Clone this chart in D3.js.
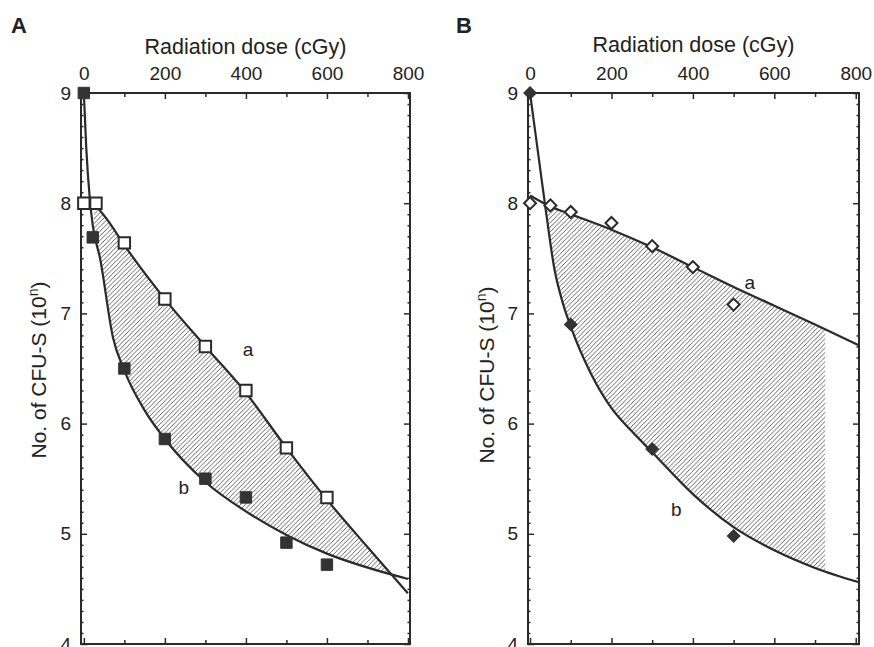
<!DOCTYPE html>
<html>
<head>
<meta charset="utf-8">
<script src="https://cdn.jsdelivr.net/npm/d3@7"></script>
<style>
  body { margin: 0; background: #fff; }
  svg { font-family: "Liberation Sans", Arial, Helvetica, sans-serif; }
</style>
</head>
<body>
<svg id="chart" width="874" height="647"></svg>
<script>
// axis ticks
const doseTicks = [0, 200, 400, 600, 800];
const doseMinor = [100, 300, 500, 700];
const logTicks = [4, 5, 6, 7, 8, 9];
const logMinor = d3.range(40, 91).filter((d) => d % 10 !== 0).map((d) => d / 10);

// panel A : measured points (open = a, filled = b)
const aOpenDose = [0, 30, 100, 200, 300, 400, 500, 600];
const aOpenVal = [8.0, 8.0, 7.64, 7.13, 6.7, 6.3, 5.78, 5.33];
const aFilledDose = [0, 22, 100, 200, 300, 400, 500, 600];
const aFilledVal = [9.0, 7.69, 6.5, 5.86, 5.5, 5.33, 4.92, 4.72];

// panel A : fitted curves
const aCurveADose = [25, 60, 100, 200, 300, 400, 500, 600, 700, 800];
const aCurveAVal = [8.0, 7.84, 7.62, 7.13, 6.7, 6.28, 5.78, 5.31, 4.88, 4.46];
const aCurveBDose = [0, 6, 15, 22, 40, 72, 100, 150, 200, 300, 410, 500, 600, 740, 800];
const aCurveBVal = [9.0, 8.5, 8.03, 7.8, 7.5, 6.78, 6.48, 6.12, 5.86, 5.47, 5.18, 4.99, 4.82, 4.65, 4.59];

// panel B : measured points
const bOpenDose = [0, 50, 100, 200, 300, 400, 500];
const bOpenVal = [8.0, 7.98, 7.92, 7.82, 7.61, 7.42, 7.08];
const bFilledDose = [0, 100, 300, 500];
const bFilledVal = [9.0, 6.9, 5.77, 4.98];

// panel B : fitted curves
const bCurveADose = [0, 50, 100, 200, 300, 400, 500, 600, 700, 808];
const bCurveAVal = [8.07, 7.97, 7.9, 7.76, 7.6, 7.42, 7.24, 7.07, 6.9, 6.71];
const bCurveBDose = [0, 20, 40, 60, 80, 100, 150, 200, 250, 300, 400, 500, 600, 700, 808];
const bCurveBVal = [9.0, 8.45, 7.9, 7.4, 7.1, 6.88, 6.45, 6.14, 5.93, 5.74, 5.36, 5.06, 4.85, 4.69, 4.56];

// curve labels [text, dose, value]
const aLabels = [["a", 405, 6.67], ["b", 247, 5.42]];
const bLabels = [["a", 540, 7.28], ["b", 359, 5.22]];

const ink = "#2a2a2a";
const svg = d3.select("#chart");

const defs = svg.append("defs");
defs.append("pattern")
  .attr("id", "hatch")
  .attr("patternUnits", "userSpaceOnUse")
  .attr("width", 4.6)
  .attr("height", 4.6)
  .append("path")
  .attr("d", "M-1,1 L1,-1 M0,4.6 L4.6,0 M3.6,5.6 L5.6,3.6")
  .attr("stroke", "#4a4a4a")
  .attr("stroke-width", 0.85);

const zip = (xs, ys) => xs.map((d, i) => [d, ys[i]]);

function drawPanel(id, o) {
  const x = d3.scaleLinear().domain(o.xDomain).range([o.left, o.right]);
  const y = d3.scaleLinear().domain([4, 9]).range([o.bottom, o.top]);
  const g = svg.append("g").attr("id", id);
  const curve = d3.curveMonotoneX;

  // hatched area between curve a (upper) and curve b (lower)
  const below = d3.area().x((d) => x(d[0])).y0(o.bottom).y1((d) => y(d[1])).curve(curve);
  const above = d3.area().x((d) => x(d[0])).y0(o.top).y1((d) => y(d[1])).curve(curve);
  defs.append("clipPath").attr("id", id + "-ca").append("path").attr("d", below(o.curveA));
  defs.append("clipPath").attr("id", id + "-cb").append("path").attr("d", above(o.curveB));
  g.append("g")
    .attr("clip-path", `url(#${id}-ca)`)
    .append("g")
    .attr("clip-path", `url(#${id}-cb)`)
    .append("rect")
    .attr("x", o.left)
    .attr("y", o.top)
    .attr("width", x(o.hatchMax) - o.left)
    .attr("height", o.bottom - o.top)
    .attr("fill", "url(#hatch)");

  // axes, ticks pointing inwards
  const styleAxis = (sel) => {
    sel.select(".domain").remove();
    sel.selectAll(".tick line").attr("stroke", ink).attr("stroke-width", 1.5);
    sel.selectAll(".tick text").attr("fill", "#222").style("font-size", "19px");
  };
  g.append("g").attr("transform", `translate(0,${o.top})`)
    .call(d3.axisTop(x).tickValues(doseTicks).tickSize(-6).tickPadding(13))
    .call(styleAxis);
  g.append("g").attr("transform", `translate(0,${o.top})`)
    .call(d3.axisTop(x).tickValues(doseMinor).tickSize(-4).tickFormat(""))
    .call(styleAxis);
  g.append("g").attr("transform", `translate(0,${o.bottom})`)
    .call(d3.axisBottom(x).tickValues(doseTicks).tickSize(-6).tickFormat(""))
    .call(styleAxis);
  g.append("g").attr("transform", `translate(0,${o.bottom})`)
    .call(d3.axisBottom(x).tickValues(doseMinor).tickSize(-4).tickFormat(""))
    .call(styleAxis);
  g.append("g").attr("transform", `translate(${o.left},0)`)
    .call(d3.axisLeft(y).tickValues(logTicks).tickSize(-6).tickPadding(10).tickFormat(d3.format("d")))
    .call(styleAxis);
  g.append("g").attr("transform", `translate(${o.left},0)`)
    .call(d3.axisLeft(y).tickValues(logMinor).tickSize(-2.5).tickFormat(""))
    .call(styleAxis);
  g.append("g").attr("transform", `translate(${o.right},0)`)
    .call(d3.axisRight(y).tickValues(logTicks).tickSize(-6).tickFormat(""))
    .call(styleAxis);
  g.append("g").attr("transform", `translate(${o.right},0)`)
    .call(d3.axisRight(y).tickValues(logMinor).tickSize(-2.5).tickFormat(""))
    .call(styleAxis);

  g.append("rect")
    .attr("x", o.left).attr("y", o.top)
    .attr("width", o.right - o.left).attr("height", o.bottom - o.top)
    .attr("fill", "none").attr("stroke", ink).attr("stroke-width", 2);

  // fitted curves
  const line = d3.line().x((d) => x(d[0])).y((d) => y(d[1])).curve(curve);
  [o.curveA, o.curveB].forEach((c) => {
    g.append("path").attr("d", line(c))
      .attr("fill", "none").attr("stroke", ink).attr("stroke-width", 2.2);
  });

  // markers
  const sym = (type, size) => d3.symbol().type(type).size(size)();
  g.selectAll(".filled").data(o.filled).join("path")
    .attr("transform", (d) => `translate(${x(d[0])},${y(d[1])})${o.rot}`)
    .attr("d", sym(d3.symbolSquare, o.fillSize))
    .attr("fill", "#333").attr("stroke", "#333").attr("stroke-width", 1);
  g.selectAll(".open").data(o.open).join("path")
    .attr("transform", (d) => `translate(${x(d[0])},${y(d[1])})${o.rot}`)
    .attr("d", sym(d3.symbolSquare, o.openSize))
    .attr("fill", "#fff").attr("stroke", ink).attr("stroke-width", 2);

  // curve labels
  g.selectAll(".lab").data(o.labels).join("text")
    .attr("x", (d) => x(d[1])).attr("y", (d) => y(d[2]))
    .attr("dy", "0.35em").attr("text-anchor", "middle")
    .attr("fill", "#222").style("font-size", "19px")
    .text((d) => d[0]);

  // titles
  g.append("text")
    .attr("x", (o.left + o.right) / 2).attr("y", o.titleY)
    .attr("text-anchor", "middle").attr("fill", "#222").style("font-size", "21.5px")
    .text("Radiation dose (cGy)");
  const yt = g.append("text")
    .attr("transform", `translate(${o.yTitleX},${o.yTitleY}) rotate(-90)`)
    .attr("text-anchor", "middle").attr("fill", "#222").style("font-size", "21px");
  yt.append("tspan").text("No. of CFU-S (10");
  yt.append("tspan").attr("dy", -8).style("font-size", "14px").text("n");
  yt.append("tspan").attr("dy", 8).text(")");

  g.append("text")
    .attr("x", o.letterX).attr("y", 33)
    .attr("fill", "#222").style("font-size", "22px").style("font-weight", "bold")
    .text(id);
}

drawPanel("A", {
  left: 81, right: 410, top: 93, bottom: 644,
  xDomain: [-7, 805],
  curveA: zip(aCurveADose, aCurveAVal),
  curveB: zip(aCurveBDose, aCurveBVal),
  open: zip(aOpenDose, aOpenVal),
  filled: zip(aFilledDose, aFilledVal),
  hatchMax: 800,
  rot: "", openSize: 130, fillSize: 130,
  labels: aLabels,
  titleY: 54, yTitleX: 46, yTitleY: 370, letterX: 11
});

drawPanel("B", {
  left: 528, right: 859, top: 93, bottom: 644,
  xDomain: [-5, 808],
  curveA: zip(bCurveADose, bCurveAVal),
  curveB: zip(bCurveBDose, bCurveBVal),
  open: zip(bOpenDose, bOpenVal),
  filled: zip(bFilledDose, bFilledVal),
  hatchMax: 725,
  rot: " rotate(45)", openSize: 72, fillSize: 80,
  labels: bLabels,
  titleY: 52, yTitleX: 494, yTitleY: 375, letterX: 456
});
</script>
</body>
</html>
